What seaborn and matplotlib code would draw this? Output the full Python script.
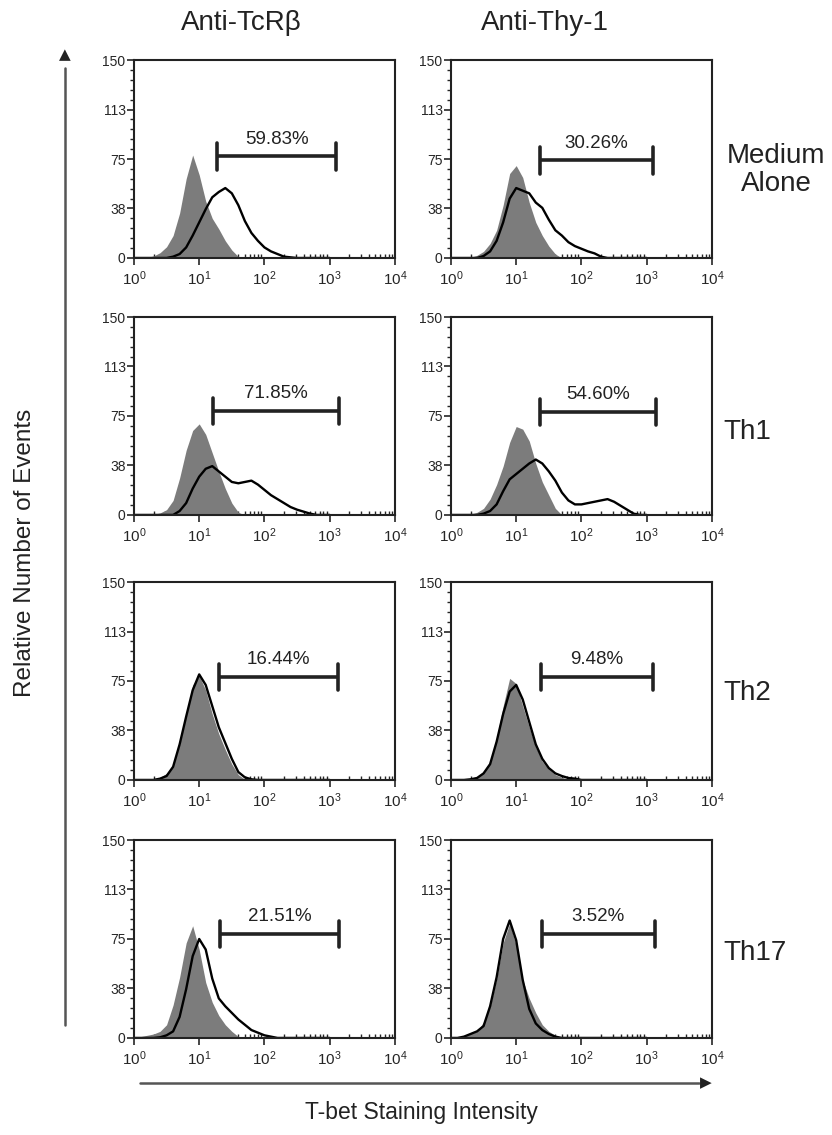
import matplotlib
matplotlib.use('Agg')
import matplotlib.pyplot as plt
import numpy as np
import seaborn as sns

# Channel positions (log10 of staining intensity) shared by all histograms
bin_log10 = [0.0, 0.1, 0.2, 0.3, 0.4, 0.5, 0.6, 0.7, 0.8, 0.9,
             1.0, 1.1, 1.2, 1.3, 1.4, 1.5, 1.6, 1.7, 1.8, 1.9,
             2.0, 2.1, 2.2, 2.3, 2.4, 2.5, 2.6, 2.7, 2.8, 2.9, 3.0]

col_titles = ['Anti-TcRβ', 'Anti-Thy-1']
row_labels = ['Medium\nAlone', 'Th1', 'Th2', 'Th17']
ytick_vals = [0, 37.5, 75, 112.5, 150]
ytick_text = ['0', '38', '75', '113', '150']

# isotype control (grey filled), row by row, left then right
medium_tcr_iso = [0, 0, 0.5, 1.5, 4, 8.5, 17, 34, 60, 78,
                  63, 43, 30, 22, 13, 6, 1, 0, 0, 0,
                  0, 0, 0, 0, 0, 0, 0, 0, 0, 0, 0]
medium_thy_iso = [0, 0, 0, 0.5, 2, 5, 11, 21, 40, 64,
                  70, 61, 42, 27, 17, 9, 3, 0, 0, 0,
                  0, 0, 0, 0, 0, 0, 0, 0, 0, 0, 0]
th1_tcr_iso = [0, 0, 0, 0.5, 1.5, 4, 11, 28, 49, 64,
               69, 61, 47, 33, 20, 9, 2, 0, 0, 0,
               0, 0, 0, 0, 0, 0, 0, 0, 0, 0, 0]
th1_thy_iso = [0, 0, 0, 0.5, 2, 5, 12, 23, 37, 55,
               67, 65, 56, 39, 25, 15, 5, 0, 0, 0,
               0, 0, 0, 0, 0, 0, 0, 0, 0, 0, 0]
th2_tcr_iso = [0, 0, 0.5, 1, 2, 5, 11, 27, 49, 72,
               79, 68, 50, 35, 23, 12, 4, 0.5, 0, 0,
               0, 0, 0, 0, 0, 0, 0, 0, 0, 0, 0]
th2_thy_iso = [0, 0, 0.5, 1, 2, 6, 14, 32, 56, 77,
               73, 56, 40, 25, 14, 8, 4, 2, 0.5, 0,
               0, 0, 0, 0, 0, 0, 0, 0, 0, 0, 0]
th17_tcr_iso = [0, 1, 2, 3, 5, 10, 25, 46, 72, 85,
                67, 42, 27, 17, 10, 5, 1, 0, 0, 0,
                0, 0, 0, 0, 0, 0, 0, 0, 0, 0, 0]
th17_thy_iso = [0, 0.5, 1, 3, 5, 12, 24, 45, 72, 87,
                70, 44, 30, 19, 10, 5, 2, 0, 0, 0,
                0, 0, 0, 0, 0, 0, 0, 0, 0, 0, 0]

# T-bet staining (black outline)
medium_tcr_tbet = [0, 0, 0, 0, 0, 0, 1, 3, 8, 17,
                   27, 37, 46, 50, 53, 49, 40, 28, 19, 13,
                   8, 5, 3, 1, 0.5, 0, 0, 0, 0, 0, 0]
medium_thy_tbet = [0, 0, 0, 0, 0, 1.5, 5, 13, 27, 45,
                   53, 51, 49, 42, 38, 29, 21, 17, 12, 9,
                   7, 5, 3.5, 1, 0, 0, 0, 0, 0, 0, 0]
th1_tcr_tbet = [0, 0, 0, 0, 0, 0, 0, 3, 9, 20,
                29, 35, 37, 33, 29, 25, 24, 25, 26, 23,
                19, 15, 12, 9, 6, 4, 2.5, 1, 0, 0, 0]
th1_thy_tbet = [0, 0, 0, 0, 0, 1, 3, 8, 18, 27,
                31, 35, 39, 42, 39, 33, 26, 17, 11, 8,
                8, 9, 10, 11, 12, 10, 7, 4, 1, 0, 0]
th2_tcr_tbet = [0, 0, 0, 0, 1, 3, 10, 27, 48, 68,
                80, 72, 56, 40, 28, 16, 6, 2, 0.5, 0,
                0, 0, 0, 0, 0, 0, 0, 0, 0, 0, 0]
th2_thy_tbet = [0, 0, 0, 0.5, 1.5, 5, 12, 29, 50, 67,
                72, 61, 44, 27, 16, 9, 5, 3, 1.5, 1,
                0, 0, 0, 0, 0, 0, 0, 0, 0, 0, 0]
th17_tcr_tbet = [0, 0, 0, 0, 0.5, 2, 5, 16, 37, 62,
                 75, 67, 45, 30, 24, 19, 14, 10, 6, 4,
                 2, 1, 0, 0, 0, 0, 0, 0, 0, 0, 0]
th17_thy_tbet = [0, 0, 1, 3, 5, 9, 24, 46, 75, 89,
                 74, 44, 22, 11, 6, 3, 1, 0, 0, 0,
                 0, 0, 0, 0, 0, 0, 0, 0, 0, 0, 0]

iso_curves = [[medium_tcr_iso, medium_thy_iso], [th1_tcr_iso, th1_thy_iso],
              [th2_tcr_iso, th2_thy_iso], [th17_tcr_iso, th17_thy_iso]]
tbet_curves = [[medium_tcr_tbet, medium_thy_tbet], [th1_tcr_tbet, th1_thy_tbet],
               [th2_tcr_tbet, th2_thy_tbet], [th17_tcr_tbet, th17_thy_tbet]]

# gate markers: percent positive, gate start/end (intensity), height
gate_pct = [['59.83%', '30.26%'], ['71.85%', '54.60%'],
            ['16.44%', '9.48%'], ['21.51%', '3.52%']]
gate_lo = [[19, 23], [16, 23], [20, 24], [21, 25]]
gate_hi = [[1260, 1260], [1380, 1380], [1320, 1260], [1380, 1320]]
gate_y = [[77, 74], [79, 78], [78, 78], [79, 79]]


def main():
    sns.set_style('ticks')
    plt.rcParams['font.family'] = ['Liberation Sans', 'DejaVu Sans']
    plt.rcParams['mathtext.default'] = 'regular'

    fig = plt.figure(figsize=(8.32, 11.35), dpi=100)
    x = 10 ** np.array(bin_log10)

    # axes layout (figure fractions)
    lefts = [0.161, 0.542]
    bottoms = [0.7727, 0.5463, 0.3128, 0.0855]
    w, h = 0.3137, 0.1744

    for r in range(4):
        for c in range(2):
            ax = fig.add_axes([lefts[c], bottoms[r], w, h])
            iso = iso_curves[r][c]
            tbet = tbet_curves[r][c]
            assert len(iso) == len(bin_log10) and len(tbet) == len(bin_log10)
            ax.fill_between(x, iso, 0, color='#7c7c7c', lw=0)
            sns.lineplot(x=x, y=tbet, ax=ax, color='black', lw=1.7)

            ax.set_xscale('log')
            ax.set_xlim(1, 1e4)
            ax.set_ylim(0, 150)
            ax.set_yticks(ytick_vals)
            ax.set_yticklabels(ytick_text)
            ax.set_yticks(np.arange(0, 151, 7.5), minor=True)
            ax.tick_params(axis='y', which='major', direction='out',
                           length=5, width=1.2, labelsize=10, pad=1)
            ax.tick_params(axis='y', which='minor', direction='out',
                           length=3, width=1)
            ax.tick_params(axis='x', which='major', direction='out',
                           length=5, width=1.2, labelsize=11, pad=3)
            ax.tick_params(axis='x', which='minor', direction='in',
                           length=3, width=1)
            for sp in ax.spines.values():
                sp.set_visible(True)
                sp.set_linewidth(1.5)
                sp.set_color('#222222')
            ax.set_xlabel('')
            ax.set_ylabel('')

            # gate bar
            lo, hi, gy = gate_lo[r][c], gate_hi[r][c], gate_y[r][c]
            ax.plot([lo, hi], [gy, gy], color='#222222', lw=2.6,
                    solid_capstyle='butt')
            ax.plot([lo, lo], [gy - 10, gy + 10], color='#222222', lw=2.6)
            ax.plot([hi, hi], [gy - 10, gy + 10], color='#222222', lw=2.6)
            ax.text(np.sqrt(lo * hi), gy + 13, gate_pct[r][c], ha='center',
                    va='center', fontsize=13.5, color='#222222')

    # column titles
    fig.text(0.290, 0.980, col_titles[0], ha='center', va='center',
             fontsize=20, color='#222222')
    fig.text(0.655, 0.980, col_titles[1], ha='center', va='center',
             fontsize=20, color='#222222')

    # row labels
    fig.text(0.933, 0.850, row_labels[0], ha='center', va='center',
             fontsize=20, color='#222222', linespacing=1.1)
    row_y = [0.619, 0.389, 0.160]
    for lab, yy in zip(row_labels[1:], row_y):
        fig.text(0.870, yy, lab, ha='left', va='center', fontsize=20,
                 color='#222222')

    # axis arrows and labels
    fig.add_artist(plt.Line2D([0.078, 0.078], [0.097, 0.94],
                              color='#555555', lw=1.8))
    fig.add_artist(plt.Line2D([0.168, 0.84], [0.046, 0.046],
                              color='#555555', lw=1.8))
    fig.text(0.078, 0.952, '▲', ha='center', va='center', fontsize=11,
             color='#222222', family='DejaVu Sans')
    fig.text(0.848, 0.046, '▶', ha='center', va='center', fontsize=11,
             color='#222222', family='DejaVu Sans')
    fig.text(0.030, 0.513, 'Relative Number of Events', rotation=90,
             ha='center', va='center', fontsize=17.5, color='#222222')
    fig.text(0.507, 0.020, 'T-bet Staining Intensity', ha='center',
             va='center', fontsize=16.5, color='#222222')

    fig.savefig('out.png', dpi=100)


if __name__ == '__main__':
    main()
